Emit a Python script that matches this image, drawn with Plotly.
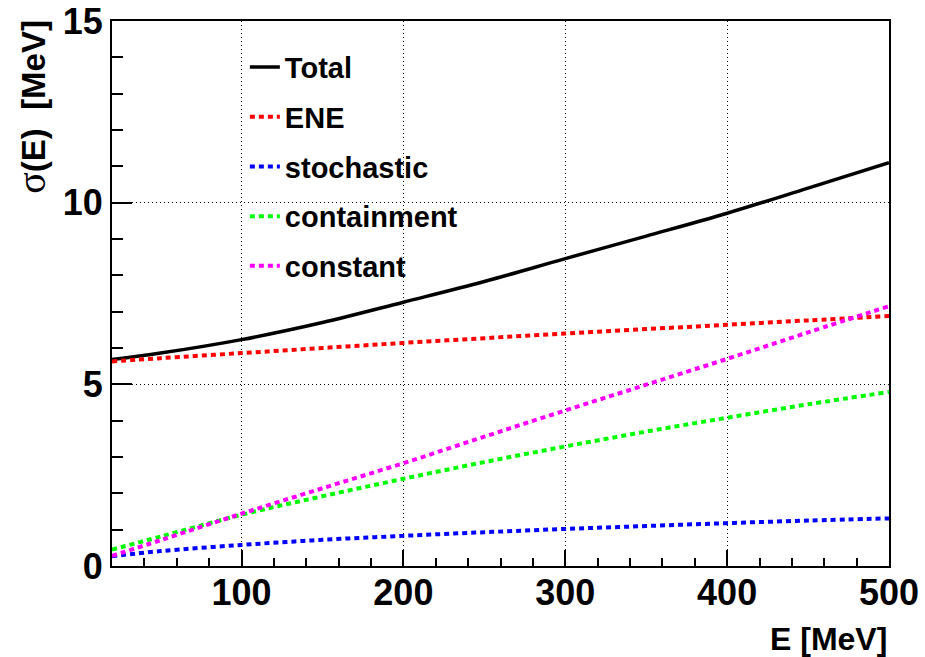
import plotly.graph_objects as go

# Energy grid (MeV) and resolution contributions sigma(E) (MeV)
energy = [20, 50, 100, 150, 200, 250, 300, 350, 400, 450, 500]
sigma_total = [5.68, 5.86, 6.23, 6.70, 7.26, 7.83, 8.46, 9.08, 9.71, 10.40, 11.10]
sigma_ene = [5.63, 5.72, 5.86, 6.00, 6.14, 6.27, 6.40, 6.52, 6.64, 6.76, 6.88]
sigma_stochastic = [0.27, 0.41, 0.58, 0.72, 0.83, 0.93, 1.02, 1.10, 1.18, 1.25, 1.31]
sigma_containment = [0.45, 0.81, 1.41, 1.92, 2.40, 2.86, 3.29, 3.70, 4.08, 4.45, 4.79]
sigma_constant = [0.28, 0.71, 1.44, 2.14, 2.83, 3.56, 4.28, 4.99, 5.70, 6.43, 7.15]

series_names = ["Total", "ENE", "stochastic", "containment", "constant"]
series_colors = ["#000000", "#ff0000", "#0000ff", "#00ff00", "#ff00ff"]

x_ticks = [100, 200, 300, 400, 500]
y_ticks = [0, 5, 10, 15]

FONT = "Liberation Sans"

fig = go.Figure()

all_series = [sigma_total, sigma_ene, sigma_stochastic, sigma_containment, sigma_constant]
for name, color, values in zip(series_names, series_colors, all_series):
    if name == "Total":
        line = dict(color=color, width=3.5, shape="spline")
    else:
        line = dict(color=color, width=4, dash="5px,4px", shape="spline")
    fig.add_trace(go.Scatter(
        x=energy, y=values, mode="lines", name=name, line=line,
        legendgroup=name,
    ))

axis_common = dict(
    automargin=False,
    ticks="inside",
    tickcolor="black",
    tickwidth=1.5,
    showline=True,
    linecolor="black",
    linewidth=2,
    mirror=True,
    showgrid=True,
    gridcolor="black",
    gridwidth=1,
    griddash="1px,3px",
    zeroline=False,
    tickfont=dict(family=FONT, size=36, color="black", weight="bold"),
)

fig.update_xaxes(
    range=[20, 500], tickvals=x_ticks, ticklen=16, ticklabelstandoff=-6,
    minor=dict(dtick=20, tick0=0, ticks="inside", ticklen=8, tickwidth=1.5,
               tickcolor="black", showgrid=False),
    **axis_common,
)
fig.update_yaxes(
    range=[0, 15], tickvals=y_ticks, ticklen=20,
    minor=dict(dtick=1, tick0=0, ticks="inside", ticklen=11, tickwidth=1.5,
               tickcolor="black", showgrid=False),
    **axis_common,
)

fig.add_annotation(
    text="E [MeV]", xref="paper", yref="paper", x=1.0, y=-0.134,
    xanchor="right", yanchor="middle", showarrow=False,
    font=dict(family=FONT, size=32, color="black", weight="bold"),
)
fig.add_annotation(
    text="<span style='font-family:Liberation Serif;font-weight:normal;font-size:40px'>σ</span>(E)\u00a0\u00a0[MeV]",
    xref="paper", yref="paper", x=-0.104, y=0.843,
    xanchor="center", yanchor="middle", textangle=-90, showarrow=False,
    font=dict(family=FONT, size=33, color="black", weight="bold"),
)

fig.update_layout(
    width=925, height=657,
    margin=dict(l=112, r=36, t=21, b=91),
    paper_bgcolor="white",
    plot_bgcolor="white",
    showlegend=True,
    legend=dict(
        x=0.171, y=0.962, xanchor="left", yanchor="top",
        bgcolor="rgba(0,0,0,0)", borderwidth=0,
        font=dict(family=FONT, size=29, color="black", weight="bold"),
        traceorder="grouped", tracegroupgap=9,
    ),
)

fig.write_html("out.html")
